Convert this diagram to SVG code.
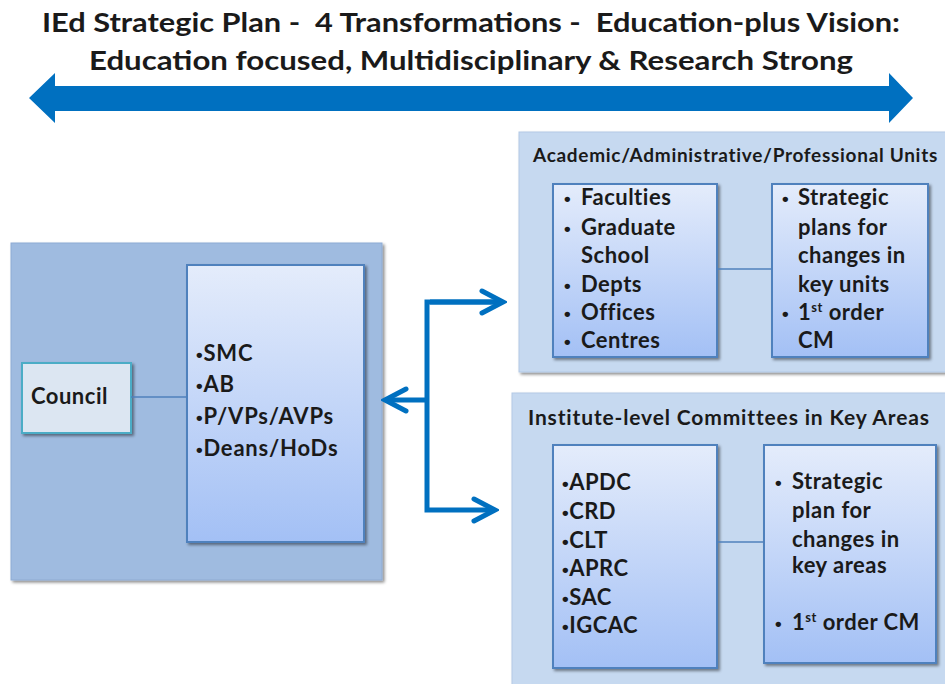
<svg xmlns="http://www.w3.org/2000/svg" width="945" height="684" viewBox="0 0 945 684">
<style>
text{font-family:"Lato","Liberation Sans",sans-serif;font-weight:bold;fill:#1a1a1a;white-space:pre}
.title{font-size:27px;text-anchor:middle}
.hdr1{font-size:19px;letter-spacing:0.7px}
.hdr2{font-size:21px;letter-spacing:0.85px}
.lst{font-size:22px;letter-spacing:0.8px}
.itm{font-size:22px;letter-spacing:0.5px}
.b{font-family:"Liberation Sans",sans-serif;font-weight:bold;font-size:19px}
.outerL{fill:#9FBBE0;stroke:#8EABD3;stroke-width:1}
.outerR{fill:#C6D9F0;stroke:#B3C9E6;stroke-width:1}
.inner{fill:url(#gradInner);stroke:#4F81BD;stroke-width:2}
.council{fill:#DCE6F2;stroke:#4BACC6;stroke-width:2}
.link{stroke:#4F81BD;stroke-width:1.5;fill:none}
.conn{stroke:#0070C0;stroke-width:5;fill:none;stroke-linejoin:miter}
</style>
<defs>
<linearGradient id="gradInner" x1="0" y1="0" x2="0" y2="1">
<stop offset="0" stop-color="#E4ECFB"/>
<stop offset="1" stop-color="#A3C0F5"/>
</linearGradient>
<filter id="sh" x="-5%" y="-5%" width="115%" height="115%">
<feDropShadow dx="2" dy="2" stdDeviation="1.5" flood-color="#000" flood-opacity="0.45"/>
</filter>
<marker id="chev" markerUnits="userSpaceOnUse" markerWidth="30" markerHeight="30" refX="26" refY="15" orient="auto">
<path d="M5,4 L26,15 L5,26" fill="none" stroke="#0070C0" stroke-width="5" stroke-linecap="round" stroke-linejoin="miter"/>
</marker>
</defs>

<g id="title">
<text class="title" x="471" y="32" textLength="858" lengthAdjust="spacingAndGlyphs">IEd Strategic Plan -  4 Transformations -  Education-plus Vision:</text>
<text class="title" x="471" y="70" textLength="764" lengthAdjust="spacingAndGlyphs">Education focused, Multidisciplinary &amp; Research Strong</text>
</g>
<g id="banner-arrow">
<polygon points="29,98 55,73 55,86 889,86 889,73 913,98 889,123 889,111 55,111 55,123" fill="#0070C0"/>
</g>

<g id="leadership">
<rect class="outerL" x="11" y="243" width="371" height="337" filter="url(#sh)"/>
</g>
<g id="council">
<rect class="council" x="22" y="363" width="109" height="70" filter="url(#sh)"/>
<text class="itm" x="31" y="404">Council</text>
</g>
<g id="leaders">
<rect class="inner" x="187" y="265" width="177" height="277" filter="url(#sh)"/>
<text class="lst" x="196" y="361"><tspan class="b">•</tspan>SMC</text>
<text class="lst" x="196" y="392"><tspan class="b">•</tspan>AB</text>
<text class="lst" x="196" y="424"><tspan class="b">•</tspan>P/VPs/AVPs</text>
<text class="lst" x="196" y="456"><tspan class="b">•</tspan>Deans/HoDs</text>
</g>

<g id="units">
<rect class="outerR" x="519" y="132" width="440" height="240" filter="url(#sh)"/>
<text class="hdr1" x="533" y="162">Academic/Administrative/Professional Units</text>
</g>
<g id="units-list">
<rect class="inner" x="553" y="184" width="164" height="173" filter="url(#sh)"/>
<text class="b" x="564" y="205">•</text><text class="itm" x="581" y="205">Faculties</text>
<text class="b" x="564" y="235">•</text><text class="itm" x="581" y="235">Graduate</text>
<text class="itm" x="581" y="263">School</text>
<text class="b" x="564" y="292">•</text><text class="itm" x="581" y="292">Depts</text>
<text class="b" x="564" y="320">•</text><text class="itm" x="581" y="320">Offices</text>
<text class="b" x="564" y="348">•</text><text class="itm" x="581" y="348">Centres</text>
</g>
<g id="units-plan">
<rect class="inner" x="772" y="184" width="156" height="173" filter="url(#sh)"/>
<text class="b" x="782" y="205">•</text><text class="itm" x="798" y="205">Strategic</text>
<text class="itm" x="798" y="235">plans for</text>
<text class="itm" x="798" y="263">changes in</text>
<text class="itm" x="798" y="292">key units</text>
<text class="b" x="782" y="320">•</text><text class="itm" x="798" y="320">1<tspan font-size="13" dy="-8">st</tspan><tspan dy="8"> order</tspan></text>
<text class="itm" x="798" y="348">CM</text>
</g>

<g id="committees">
<rect class="outerR" x="512" y="393" width="447" height="300" filter="url(#sh)"/>
<text class="hdr2" x="528" y="425">Institute-level Committees in Key Areas</text>
</g>
<g id="committees-list">
<rect class="inner" x="553" y="445" width="164" height="223" filter="url(#sh)"/>
<text class="itm" x="562" y="490"><tspan class="b">•</tspan>APDC</text>
<text class="itm" x="562" y="519"><tspan class="b">•</tspan>CRD</text>
<text class="itm" x="562" y="548"><tspan class="b">•</tspan>CLT</text>
<text class="itm" x="562" y="576"><tspan class="b">•</tspan>APRC</text>
<text class="itm" x="562" y="605"><tspan class="b">•</tspan>SAC</text>
<text class="itm" x="562" y="633"><tspan class="b">•</tspan>IGCAC</text>
</g>
<g id="committees-plan">
<rect class="inner" x="764" y="445" width="172" height="218" filter="url(#sh)"/>
<text class="b" x="775" y="489">•</text><text class="itm" x="792" y="489">Strategic</text>
<text class="itm" x="792" y="518">plan for</text>
<text class="itm" x="792" y="547">changes in</text>
<text class="itm" x="792" y="573">key areas</text>
<text class="b" x="775" y="630">•</text><text class="itm" x="792" y="630">1<tspan font-size="13" dy="-8">st</tspan><tspan dy="8"> order CM</tspan></text>
</g>

<g id="connectors">
<line class="link" x1="131" y1="397" x2="187" y2="397"/>
<line class="link" x1="717" y1="269" x2="772" y2="269"/>
<line class="link" x1="717" y1="542" x2="764" y2="542"/>
<polyline class="conn" points="501,302 427,302 427,510 495,510" marker-end="url(#chev)"/>
<line class="conn" x1="430" y1="302" x2="503" y2="302" marker-end="url(#chev)"/>
<line class="conn" x1="427" y1="400" x2="385" y2="400" marker-end="url(#chev)"/>
</g>
</svg>
